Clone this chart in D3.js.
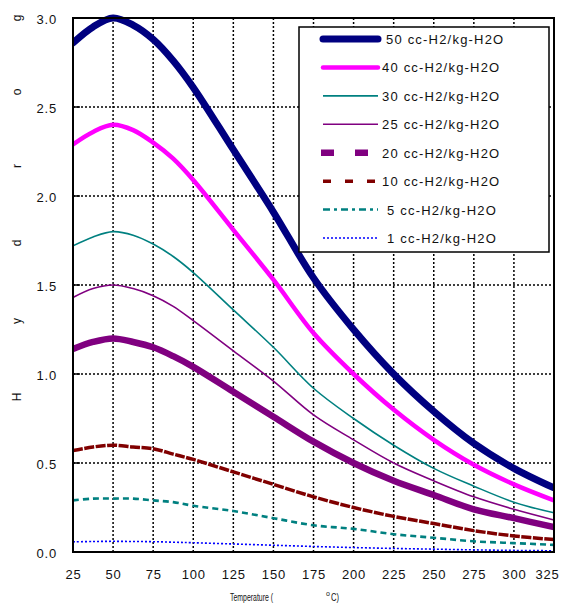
<!DOCTYPE html>
<html><head><meta charset="utf-8">
<script src="https://cdn.jsdelivr.net/npm/d3@7"></script>
<style>
html,body{margin:0;padding:0;background:#fff;}
svg{display:block;font-family:"Liberation Sans",Arial,sans-serif;}
</style></head>
<body>
<svg id="chart" width="564" height="605"></svg>
<script>
// ---- data ----
const temperatures = [25, 37.5, 50, 62.5, 75, 87.5, 100, 125, 150, 175, 200, 225, 250, 275, 300, 325];
const h50 = [2.86, 2.95, 3.00, 2.96, 2.88, 2.76, 2.61, 2.26, 1.91, 1.54, 1.25, 1.00, 0.79, 0.61, 0.47, 0.36];
const h40 = [2.29, 2.36, 2.40, 2.37, 2.30, 2.21, 2.09, 1.81, 1.53, 1.23, 1.00, 0.80, 0.63, 0.49, 0.38, 0.29];
const h30 = [1.72, 1.77, 1.80, 1.78, 1.73, 1.66, 1.57, 1.36, 1.15, 0.92, 0.75, 0.60, 0.47, 0.37, 0.28, 0.22];
const h25 = [1.43, 1.48, 1.50, 1.48, 1.44, 1.38, 1.30, 1.13, 0.96, 0.77, 0.63, 0.50, 0.40, 0.31, 0.24, 0.18];
const h20 = [1.14, 1.18, 1.20, 1.18, 1.15, 1.10, 1.04, 0.90, 0.76, 0.62, 0.50, 0.40, 0.32, 0.24, 0.19, 0.14];
const h10 = [0.57, 0.59, 0.60, 0.59, 0.58, 0.55, 0.52, 0.45, 0.38, 0.31, 0.25, 0.20, 0.16, 0.12, 0.09, 0.07];
const h5  = [0.29, 0.30, 0.30, 0.30, 0.29, 0.28, 0.26, 0.23, 0.19, 0.15, 0.13, 0.10, 0.08, 0.06, 0.05, 0.04];
const h1  = [0.057, 0.059, 0.060, 0.059, 0.058, 0.055, 0.052, 0.045, 0.038, 0.031, 0.025, 0.020, 0.016, 0.012, 0.009, 0.007];
const seriesNames = ["50 cc-H2/kg-H2O","40 cc-H2/kg-H2O","30 cc-H2/kg-H2O","25 cc-H2/kg-H2O",
                     "20 cc-H2/kg-H2O","10 cc-H2/kg-H2O","5 cc-H2/kg-H2O","1 cc-H2/kg-H2O"];
const seriesValues = [h50, h40, h30, h25, h20, h10, h5, h1];
const xTicks = [25, 50, 75, 100, 125, 150, 175, 200, 225, 250, 275, 300, 325];
const yTicks = [0.0, 0.5, 1.0, 1.5, 2.0, 2.5, 3.0];
const yTitleLetters = ["H","y","d","r","o","g"];

// ---- styles ----
const styles = [
  {color:"#000080", width:7,   dash:null,     ldash:null,      cap:"round", tx:386},
  {color:"#FF00FF", width:4.5, dash:null,     ldash:null,      cap:"round", tx:382},
  {color:"#008080", width:1.6, dash:null,     ldash:null,      cap:"butt",  tx:382},
  {color:"#800080", width:1.6, dash:null,     ldash:null,      cap:"butt",  tx:382},
  {color:"#800080", width:6.5, dash:null,     ldash:"13,21",   cap:"butt",  tx:382},
  {color:"#800000", width:3.5, dash:"10,1.5", ldash:"8,14",    cap:"butt",  tx:382},
  {color:"#008080", width:2.6, dash:"6,4",    ldash:"7,4,3,4", cap:"butt",  tx:387},
  {color:"#0000FF", width:1.6, dash:"2,2",    ldash:"2,2",     cap:"butt",  tx:387}
];

const svg = d3.select("#chart");
const L = 73, R = 554, T = 18, B = 552;
const x = d3.scaleLinear().domain([25, 325]).range([L, R]);
const y = d3.scaleLinear().domain([0, 3]).range([B, T]);

// grid
const grid = svg.append("g");
grid.selectAll("line.v").data(xTicks.slice(1, -1)).join("line")
  .attr("x1", d => x(d)).attr("x2", d => x(d)).attr("y1", T).attr("y2", B)
  .attr("stroke", "#000").attr("stroke-width", 1.5).attr("stroke-dasharray", "2,2");
grid.selectAll("line.h").data(yTicks.slice(1, -1)).join("line")
  .attr("x1", L).attr("x2", R).attr("y1", d => y(d)).attr("y2", d => y(d))
  .attr("stroke", "#000").attr("stroke-width", 1.5).attr("stroke-dasharray", "2,2");

// axes
const xAxis = d3.axisBottom(x).tickValues(xTicks).tickSize(0).tickPadding(18).tickFormat(d3.format("d"));
const yAxis = d3.axisLeft(y).tickValues(yTicks).tickSize(0).tickPadding(16).tickFormat(d3.format(".1f"));
const gx = svg.append("g").attr("transform", `translate(0,${B})`).call(xAxis);
const gy = svg.append("g").attr("transform", `translate(${L},0)`).call(yAxis);
[gx, gy].forEach(g => {
  g.select(".domain").remove();
  g.selectAll("text").attr("font-size", 13).attr("fill", "#111")
    .attr("font-family", "'Liberation Sans',Arial,sans-serif").style("letter-spacing", "0.8px");
});
gy.selectAll("text").attr("dy", "0.45em");
gx.selectAll(".tick").filter(d => d === 325).select("text").attr("dx", -7);

// inner tick marks on left axis
svg.append("g").selectAll("line").data(yTicks).join("line")
  .attr("x1", L).attr("x2", L + 7).attr("y1", d => y(d)).attr("y2", d => y(d))
  .attr("stroke", "#000").attr("stroke-width", 1.5);

// clip
svg.append("clipPath").attr("id", "plotclip").append("rect")
  .attr("x", L).attr("y", T - 4).attr("width", R - L).attr("height", B - T + 4);

// series lines
const line = d3.line().x(d => x(d[0])).y(d => y(d[1])).curve(d3.curveCatmullRom.alpha(0.5));
const lines = svg.append("g").attr("clip-path", "url(#plotclip)");
for (let i = seriesValues.length - 1; i >= 0; i--) {
  const s = styles[i];
  const pts = temperatures.map((t, k) => [t, seriesValues[i][k]]);
  lines.append("path").datum(pts).attr("d", line)
    .attr("fill", "none").attr("stroke", s.color).attr("stroke-width", s.width)
    .attr("stroke-linecap", s.cap).attr("stroke-linejoin", "round")
    .attr("stroke-dasharray", s.dash);
}

// frame
svg.append("rect").attr("x", L).attr("y", T).attr("width", R - L).attr("height", B - T)
  .attr("fill", "none").attr("stroke", "#000").attr("stroke-width", 2);

// legend
const lg = svg.append("g");
lg.append("rect").attr("x", 299).attr("y", 27).attr("width", 250).attr("height", 225)
  .attr("fill", "#fff").attr("stroke", "#000").attr("stroke-width", 1.5);
const rowY = d3.scaleLinear().domain([0, 7]).range([39, 238]);
seriesNames.forEach((name, i) => {
  const s = styles[i];
  const yy = rowY(i);
  const startX = (i === 4) ? 321 : 323;
  lg.append("line").attr("x1", startX).attr("x2", 378).attr("y1", yy).attr("y2", yy)
    .attr("stroke", s.color).attr("stroke-width", s.width)
    .attr("stroke-linecap", s.cap).attr("stroke-dasharray", s.ldash);
  lg.append("text").attr("x", s.tx)
    .attr("y", yy + 5).attr("font-size", 13).attr("fill", "#111")
    .style("letter-spacing", "1.2px").text(name);
});

// y title (letters individually rotated)
const yTitleY = [397, 321, 243, 166, 92, 18];
yTitleLetters.forEach((ch, i) => {
  svg.append("text").attr("transform", `translate(21,${yTitleY[i]}) rotate(-90)`)
    .attr("text-anchor", "middle").attr("font-size", 12).attr("fill", "#111").text(ch);
});

// x title
svg.append("text").attr("x", 230).attr("y", 601).attr("font-size", 10.5)
  .attr("fill", "#111").attr("textLength", 43).attr("lengthAdjust", "spacingAndGlyphs")
  .text("Temperature (");
svg.append("text").attr("x", 326).attr("y", 596).attr("font-size", 7).attr("fill", "#111").text("o");
svg.append("text").attr("x", 331).attr("y", 601).attr("font-size", 10.5).attr("fill", "#111")
  .attr("textLength", 8).attr("lengthAdjust", "spacingAndGlyphs").text("C)");
</script>
</body></html>
